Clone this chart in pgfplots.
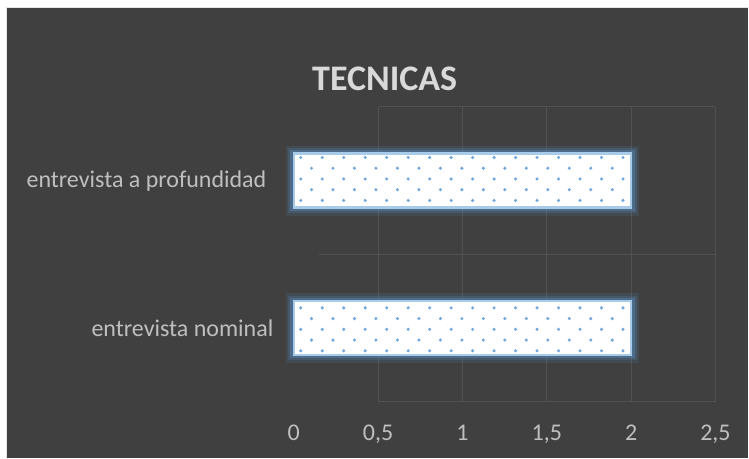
\documentclass[border=0pt]{standalone}
\usepackage{pgfplots}
\pgfplotsset{compat=1.18}
\usepackage{fontspec}
\setmainfont{Carlito}
\usetikzlibrary{patterns.meta}
\definecolor{bgc}{HTML}{404040}
\definecolor{gridc}{HTML}{515151}
\definecolor{txtc}{HTML}{BFBFBF}
\definecolor{titc}{HTML}{D9D9D9}
\definecolor{edgec}{HTML}{A9CBEA}
\definecolor{glowc}{HTML}{5B9BD5}
\definecolor{dotc}{HTML}{6FA6DC}
\tikzdeclarepattern{
  name=bardots,
  type=uncolored,
  bottom left={(-2pt,-2pt)},
  top right={(19.5pt,19.5pt)},
  tile size={(21.5pt,21.5pt)},
  code={
    \fill (0pt,0pt) circle (1.7pt);
    \fill (10.75pt,10.75pt) circle (1.7pt);
  }
}
\begin{document}
\begin{tikzpicture}[x=1pt,y=1pt]
\fill[white] (0,0) rectangle (749,458);
\fill[bgc] (7,0) rectangle (749,450);
\draw[titc!70!white, line width=1.2pt] (6.4,0) -- (6.4,450.6) -- (749,450.6);
\node[anchor=base, text=titc, font=\bfseries\fontsize{36}{40}\selectfont] at (385,367) {TECNICAS};
\begin{axis}[
  at={(294pt,56pt)}, anchor=south west,
  scale only axis, width=422pt, height=295pt,
  xmin=0, xmax=2.5, ymin=-0.5, ymax=1.5,
  xbar, bar width=54pt,
  axis line style={draw=none},
  major tick style={draw=none},
  xtick={0,0.5,1,1.5,2,2.5},
  xticklabels={0,{0,5},1,{1,5},2,{2,5}},
  ytick={0,1},
  yticklabels={entrevista nominal,{entrevista a profundidad\hspace*{7pt}}},
  tick label style={text=txtc, font=\fontsize{24}{28}\selectfont},
  xticklabel style={anchor=base, yshift=-39pt},
  yticklabel style={anchor=east, inner sep=0pt, xshift=-16pt},
  clip=false,
]
\draw[gridc, line width=1pt] (axis cs:0.5,1.5) -- (axis cs:2.5,1.5);
\draw[gridc, line width=1pt] (axis cs:0.15,0.5) -- (axis cs:2.5,0.5);
\draw[gridc, line width=1pt] (axis cs:0.5,-0.5) -- (axis cs:2.5,-0.5);
\draw[gridc, line width=1pt] (axis cs:0.5,-0.5) -- (axis cs:0.5,1.5);
\draw[gridc, line width=1pt] (axis cs:1,-0.5) -- (axis cs:1,1.5);
\draw[gridc, line width=1pt] (axis cs:1.5,-0.5) -- (axis cs:1.5,1.5);
\draw[gridc, line width=1pt] (axis cs:2,-0.5) -- (axis cs:2,1.5);
\draw[gridc, line width=1pt] (axis cs:2.5,-0.5) -- (axis cs:2.5,1.5);
\addplot[
  fill=white, draw=edgec, line width=2.5pt,
  preaction={draw=glowc, line width=16pt, draw opacity=0.12},
  preaction={draw=glowc, line width=11pt, draw opacity=0.18},
  preaction={draw=glowc, line width=7pt, draw opacity=0.3},
  postaction={pattern={bardots}, pattern color=dotc},
] coordinates {(2,0) (2,1)};
\end{axis}
\end{tikzpicture}
\end{document}
